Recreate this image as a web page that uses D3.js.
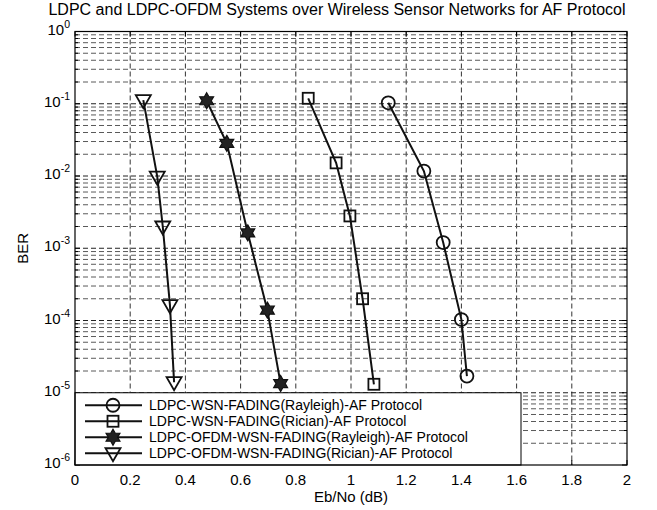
<!DOCTYPE html>
<html>
<head>
<meta charset="utf-8">
<script src="https://cdn.jsdelivr.net/npm/d3@7"></script>
<style>
  body { margin: 0; background: #fff; }
  svg { font-family: "Liberation Sans", Arial, sans-serif; }
</style>
</head>
<body>
<div id="container"></div>
<script>
const width = 657;
const height = 510;
const margin = { top: 31.5, right: 30, bottom: 45, left: 75 };

const seriesNames = [
  "LDPC-WSN-FADING(Rayleigh)-AF Protocol",
  "LDPC-WSN-FADING(Rician)-AF Protocol",
  "LDPC-OFDM-WSN-FADING(Rayleigh)-AF Protocol",
  "LDPC-OFDM-WSN-FADING(Rician)-AF Protocol",
];
const markers = ["circle", "square", "hexagram", "triangle"];

const ebnoRayleigh = [1.135, 1.264, 1.334, 1.40, 1.42];
const berRayleigh = [0.103, 0.0117, 1.2e-3, 1.03e-4, 1.7e-5];
const ebnoRician = [0.845, 0.946, 0.996, 1.042, 1.083];
const berRician = [0.119, 0.0152, 2.8e-3, 2.0e-4, 1.31e-5];
const ebnoOfdmRayleigh = [0.477, 0.55, 0.626, 0.697, 0.745];
const berOfdmRayleigh = [0.110, 0.0283, 1.63e-3, 1.39e-4, 1.34e-5];
const ebnoOfdmRician = [0.2475, 0.298, 0.318, 0.344, 0.359];
const berOfdmRician = [0.112, 0.0098, 2.0e-3, 1.63e-4, 1.4e-5];

const xTicks = [0, 0.2, 0.4, 0.6, 0.8, 1, 1.2, 1.4, 1.6, 1.8, 2];
const yDecades = [0, -1, -2, -3, -4, -5, -6];

const series = [
  { name: seriesNames[0], marker: markers[0], x: ebnoRayleigh, y: berRayleigh },
  { name: seriesNames[1], marker: markers[1], x: ebnoRician, y: berRician },
  { name: seriesNames[2], marker: markers[2], x: ebnoOfdmRayleigh, y: berOfdmRayleigh },
  { name: seriesNames[3], marker: markers[3], x: ebnoOfdmRician, y: berOfdmRician },
];

const x = d3.scaleLinear().domain([0, 2]).range([margin.left, width - margin.right]);
const y = d3.scaleLog().domain([1e-6, 1]).range([height - margin.bottom, margin.top]);

const svg = d3.select("#container").append("svg")
  .attr("width", width).attr("height", height);

const x0 = x.range()[0], x1 = x.range()[1];
const yTop = y.range()[1], yBot = y.range()[0];

// minor log values
const minorVals = [];
for (let e = -6; e < 0; e++) {
  for (let m = 2; m <= 9; m++) minorVals.push(m * Math.pow(10, e));
}

const grid = svg.append("g").attr("stroke-dasharray", "5,3").attr("fill", "none");
grid.selectAll(".gx").data(xTicks.slice(1, -1)).join("line")
  .attr("x1", d => x(d)).attr("x2", d => x(d))
  .attr("y1", yTop).attr("y2", yBot)
  .attr("stroke", "#333").attr("stroke-width", 1);
grid.selectAll(".gym").data(minorVals).join("line")
  .attr("x1", x0).attr("x2", x1)
  .attr("y1", d => y(d)).attr("y2", d => y(d))
  .attr("stroke", "#5a5a5a").attr("stroke-width", 1);
grid.selectAll(".gy").data(yDecades.slice(1, -1)).join("line")
  .attr("x1", x0).attr("x2", x1)
  .attr("y1", d => y(Math.pow(10, d))).attr("y2", d => y(Math.pow(10, d)))
  .attr("stroke", "#222").attr("stroke-width", 1);

// ticks inside the box
const ticks = svg.append("g").attr("stroke", "#000").attr("stroke-width", 1);
xTicks.forEach(t => {
  ticks.append("line").attr("x1", x(t)).attr("x2", x(t)).attr("y1", yBot).attr("y2", yBot - 5);
  ticks.append("line").attr("x1", x(t)).attr("x2", x(t)).attr("y1", yTop).attr("y2", yTop + 5);
});
yDecades.forEach(e => {
  const v = y(Math.pow(10, e));
  ticks.append("line").attr("x1", x0).attr("x2", x0 + 5).attr("y1", v).attr("y2", v);
  ticks.append("line").attr("x1", x1).attr("x2", x1 - 5).attr("y1", v).attr("y2", v);
});
minorVals.forEach(m => {
  const v = y(m);
  ticks.append("line").attr("x1", x0).attr("x2", x0 + 3).attr("y1", v).attr("y2", v);
  ticks.append("line").attr("x1", x1).attr("x2", x1 - 3).attr("y1", v).attr("y2", v);
});

// lines and markers
const line = d3.line().x(d => x(d[0])).y(d => y(d[1]));

function hexagram(r) {
  const pts = [];
  for (let i = 0; i < 12; i++) {
    const a = -Math.PI / 2 + i * Math.PI / 6;
    const rr = i % 2 === 0 ? r : r / Math.sqrt(3);
    pts.push([rr * Math.cos(a), rr * Math.sin(a)]);
  }
  return "M" + pts.map(p => p.join(",")).join("L") + "Z";
}

function drawMarker(g, type, cx, cy) {
  const s = g.append("g").attr("transform", `translate(${cx},${cy})`)
    .attr("stroke", "#111").attr("stroke-width", 1.8);
  if (type === "circle") {
    s.append("circle").attr("r", 6.5).attr("fill", "none");
  } else if (type === "square") {
    s.append("rect").attr("x", -5.5).attr("y", -5.5).attr("width", 11).attr("height", 11).attr("fill", "none");
  } else if (type === "triangle") {
    s.append("path").attr("d", "M-7.5,-5L7.5,-5L0,8Z").attr("fill", "none");
  } else {
    s.append("path").attr("d", hexagram(8)).attr("fill", "#222").attr("stroke-width", 1.2);
  }
}

const plot = svg.append("g");
series.forEach(s => {
  const pts = s.x.map((v, i) => [v, s.y[i]]);
  plot.append("path").datum(pts).attr("d", line)
    .attr("fill", "none").attr("stroke", "#111").attr("stroke-width", 2);
  pts.forEach(p => drawMarker(plot, s.marker, x(p[0]), y(p[1])));
});

// legend
const legendTop = y(1e-5);
const legend = svg.append("g");
legend.append("rect")
  .attr("x", x0).attr("y", legendTop)
  .attr("width", 446).attr("height", yBot - legendTop)
  .attr("fill", "#fff").attr("stroke", "#000").attr("stroke-width", 1);
series.forEach((s, i) => {
  const ly = legendTop + 12.5 + i * 16;
  legend.append("line").attr("x1", x0 + 10).attr("x2", x0 + 67)
    .attr("y1", ly).attr("y2", ly).attr("stroke", "#111").attr("stroke-width", 2);
  drawMarker(legend, s.marker, x0 + 38, ly);
  legend.append("text").attr("x", x0 + 74).attr("y", ly)
    .attr("dominant-baseline", "central").attr("font-size", 14)
    .text(s.name);
});

// axis box
svg.append("rect").attr("x", x0).attr("y", yTop)
  .attr("width", x1 - x0).attr("height", yBot - yTop)
  .attr("fill", "none").attr("stroke", "#000").attr("stroke-width", 1.2);

// tick labels
svg.append("g").selectAll("text").data(xTicks).join("text")
  .attr("x", d => x(d)).attr("y", yBot + 20)
  .attr("text-anchor", "middle").attr("font-size", 15)
  .text(d => d3.format("~g")(d));

const yl = svg.append("g").selectAll("text").data(yDecades).join("text")
  .attr("x", x0 - 5).attr("y", d => y(Math.pow(10, d)) + 3)
  .attr("text-anchor", "end").attr("font-size", 15);
yl.append("tspan").text("10");
yl.append("tspan").attr("dy", -7).attr("font-size", 10.5).text(d => String(d));

// axis titles
svg.append("text").attr("x", (x0 + x1) / 2).attr("y", 502)
  .attr("text-anchor", "middle").attr("font-size", 15).text("Eb/No (dB)");
svg.append("text").attr("transform", `translate(28,${(yTop + yBot) / 2}) rotate(-90)`)
  .attr("text-anchor", "middle").attr("font-size", 15).text("BER");
svg.append("text").attr("x", 337).attr("y", 14.5)
  .attr("text-anchor", "middle").attr("font-size", 16)
  .text("LDPC and LDPC-OFDM Systems over Wireless Sensor Networks for AF Protocol");
</script>
</body>
</html>
